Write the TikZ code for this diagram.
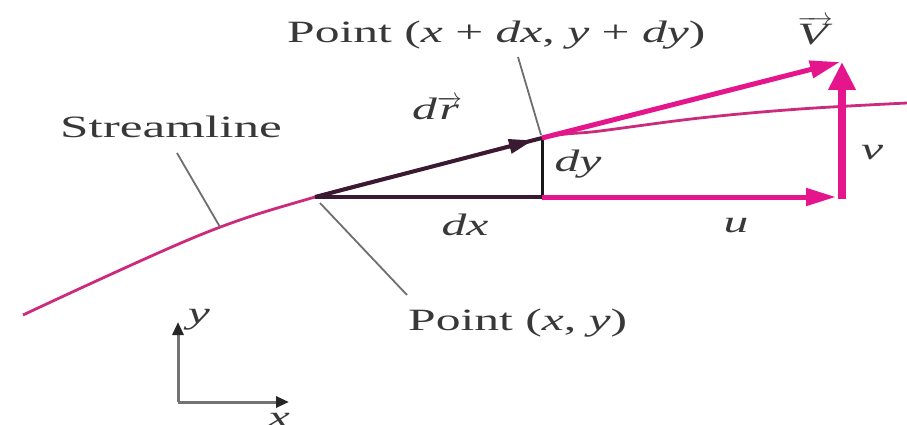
\documentclass[tikz,border=0pt]{standalone}
\usepackage{fontspec}
\usepackage{graphicx}
\usetikzlibrary{arrows.meta,calc}
\setmainfont{Liberation Serif}[FakeStretch=1.6]
\newfontfamily\widerfont{Liberation Serif}[FakeStretch=1.65]
\definecolor{magen}{HTML}{E5168C}
\definecolor{strm}{HTML}{CC2A7C}
\definecolor{darkv}{HTML}{3A1A30}
\definecolor{txtg}{HTML}{383838}
\definecolor{leadg}{HTML}{6E6E6E}
\tikzset{
  lbl/.style={text=txtg,font=\fontsize{31}{36}\selectfont,inner sep=0pt},
  leader/.style={draw=leadg,line width=1.8pt},
  vecpink/.style={draw=magen,line width=5pt,-{Triangle[length=30pt,width=17pt]}},
  axis/.style={draw=black!55,line width=3pt,-{Triangle[length=13pt,width=11pt,color=black!85]}},
}
\begin{document}
\begin{tikzpicture}[x=1pt,y=-1pt]
\useasboundingbox (0,0) rectangle (907,425);
% key points
\coordinate (P) at (315,197);
\coordinate (Q) at (542,138);
\coordinate (B) at (542,197);
\coordinate (Ut) at (836,197);
\coordinate (Vb) at (842,199);
\coordinate (Vt) at (842,62);
\coordinate (Vtip) at (840,62);
% streamline
\draw[strm,line width=2.8pt] plot[smooth,tension=0.6] coordinates
  {(23,315) (200,235) (315,197) (430,167) (542,138) (600,131) (700,118) (800,109) (907,103)};
% dx and dy
\draw[darkv,line width=4pt] (P) -- (B);
\draw[black!90,line width=3pt] (B) -- (Q);
% dr arrow
\draw[darkv,line width=4pt,-{Triangle[length=24pt,width=14pt]}] (P) -- ($(P)!0.96!(Q)$);
\draw[darkv,line width=4pt] ($(P)!0.9!(Q)$) -- (Q);
% velocity components
\draw[vecpink] (B) -- (Ut);
\draw[magen,line width=8pt,-{Triangle[length=28pt,width=26pt]}] (Vb) -- (Vt);
\draw[vecpink] (Q) -- (Vtip);
% labels
\node[lbl,anchor=base west] (top) at (287,43) {Point (\textit{x} + \textit{dx}, \textit{y} + \textit{dy})};
\node[lbl,anchor=base west] (pxy) at (408,330) {Point (\textit{x}, \textit{y})};
\node[lbl,anchor=base west,font=\widerfont\fontsize{31}{36}\selectfont] (sl) at (60,138) {Streamline};
\node[lbl] (dr) at (437,108) {\textit{d}$\overrightarrow{\mbox{\textit{r}}}$};
\node[lbl] (dy) at (578,164) {\textit{dy}};
\node[lbl] (dx) at (465,225) {\textit{dx}};
\node[lbl] (u) at (736,226) {\textit{u}};
\node[lbl] (v) at (872,153) {\textit{v}};
\node[lbl] (V) at (815,31) {$\overrightarrow{\mbox{\textit{V}}}$};
% leaders
\coordinate (l1a) at (518,57);
\coordinate (l1b) at (541,135);
\draw[leader] (l1a) -- (l1b);
\coordinate (l2a) at (177,153);
\coordinate (l2b) at (220,227);
\draw[leader] (l2a) -- (l2b);
\coordinate (l3a) at (320,203);
\coordinate (l3b) at (407,295);
\draw[leader] (l3a) -- (l3b);
% axes
\coordinate (O) at (178,402);
\coordinate (Ay) at (178,322);
\coordinate (Ax) at (289,402);
\draw[axis] (O) -- (Ay);
\draw[axis] (O) -- (Ax);
\node[lbl,anchor=base] (ylab) at (199,323) {\textit{y}};
\node[lbl,anchor=base] (xlab) at (279,427) {\textit{x}};
\end{tikzpicture}
\end{document}
